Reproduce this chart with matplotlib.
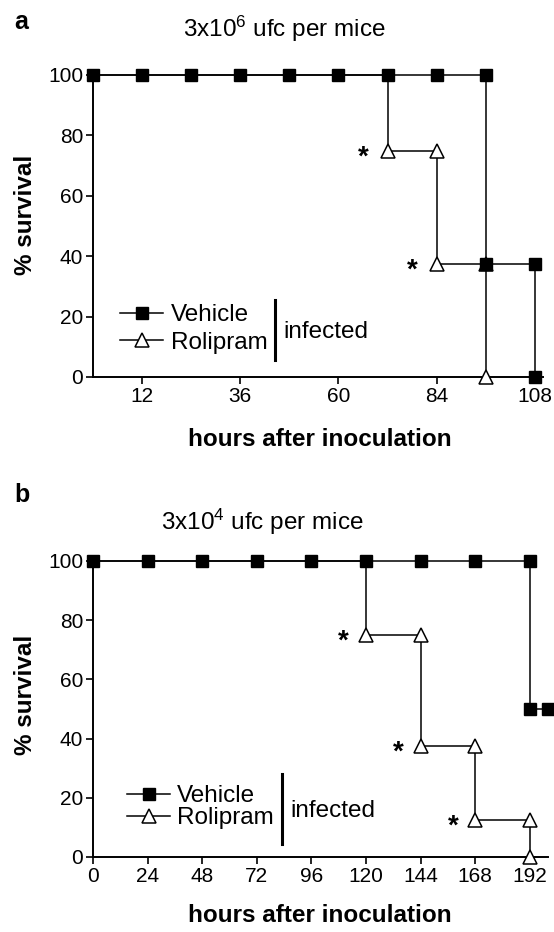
import matplotlib
matplotlib.use("Agg")
import matplotlib.pyplot as plt
from matplotlib.lines import Line2D

plt.rcParams['font.family'] = ['Liberation Sans', 'DejaVu Sans']
plt.rcParams['mathtext.fontset'] = 'custom'
plt.rcParams['mathtext.rm'] = 'Liberation Sans'
plt.rcParams['mathtext.it'] = 'Liberation Sans:italic'
plt.rcParams['mathtext.bf'] = 'Liberation Sans:bold'

# ---------------- data ----------------
# Panel a: 3x10^6 ufc per mice
veh_a_time = [0, 12, 24, 36, 48, 60, 72, 84, 96, 96, 108, 108]
veh_a_surv = [100, 100, 100, 100, 100, 100, 100, 100, 100, 37.5, 37.5, 0]
rol_a_time = [0, 72, 72, 84, 84, 96, 96]
rol_a_surv = [100, 100, 75, 75, 37.5, 37.5, 0]
rol_a_marks = [2, 3, 4, 5, 6]
star_a = [(72, 75), (84, 37.5)]
xticks_a = [12, 36, 60, 84, 108]

# Panel b: 3x10^4 ufc per mice
veh_b_time = [0, 24, 48, 72, 96, 120, 144, 168, 192, 192, 200]
veh_b_surv = [100, 100, 100, 100, 100, 100, 100, 100, 100, 50, 50]
rol_b_time = [0, 120, 120, 144, 144, 168, 168, 192, 192]
rol_b_surv = [100, 100, 75, 75, 37.5, 37.5, 12.5, 12.5, 0]
rol_b_marks = [2, 3, 4, 5, 6, 7, 8]
star_b = [(120, 75), (144, 37.5), (168, 12.5)]
xticks_b = [0, 24, 48, 72, 96, 120, 144, 168, 192]

yticks = [0, 20, 40, 60, 80, 100]

TICK_FS = 15
LAB_FS = 17.5
LEG_FS = 17.5
TITLE_FS = 17.5
MS = 8.5

W, H = 554, 932
fig = plt.figure(figsize=(W / 100, H / 100), dpi=100)

def fx(px):
    return px / W

def fy(py):
    return 1 - py / H

def setup(ax, xlim, xticks):
    ax.set_xlim(*xlim)
    ax.set_ylim(0, 100)
    ax.set_xticks(xticks)
    ax.set_yticks(yticks)
    ax.spines['top'].set_visible(False)
    ax.spines['right'].set_visible(False)
    for s in ('left', 'bottom'):
        ax.spines[s].set_linewidth(1.4)
    ax.tick_params(direction='out', length=5, width=1.2, labelsize=TICK_FS, pad=2)

def draw(ax, vt, vs, rt, rs, rmarks, stars, dx_pt):
    ax.plot(rt, rs, color='black', lw=1.1, marker='^', markevery=rmarks, ms=MS + 1,
            mfc='white', mec='black', mew=1.1, clip_on=False, zorder=3)
    ax.plot(vt, vs, color='black', lw=1.1, marker='s', ms=MS, mfc='black', mec='black',
            clip_on=False, zorder=4)
    for (x, y) in stars:
        ax.annotate('*', xy=(x, y), xytext=(-dx_pt, -5), textcoords='offset points',
                    fontsize=20, fontweight='bold', ha='center', va='center')

def legend(ax, x0, x1, xt, yv, yr, xbar, ybar0, ybar1, xinf, yinf):
    tr = ax.transAxes
    xm = (x0 + x1) / 2
    ax.add_line(Line2D([x0, x1], [yv, yv], transform=tr, color='black', lw=1.1))
    ax.add_line(Line2D([xm], [yv], transform=tr, marker='s', ms=MS, color='black'))
    ax.add_line(Line2D([x0, x1], [yr, yr], transform=tr, color='black', lw=1.1))
    ax.add_line(Line2D([xm], [yr], transform=tr, marker='^', ms=MS + 1, mfc='white',
                       mec='black', mew=1.1, color='black'))
    ax.text(xt, yv, 'Vehicle', transform=tr, fontsize=LEG_FS, va='center_baseline', ha='left')
    ax.text(xt, yr, 'Rolipram', transform=tr, fontsize=LEG_FS, va='center_baseline', ha='left')
    ax.add_line(Line2D([xbar, xbar], [ybar0, ybar1], transform=tr, color='black', lw=2.2))
    ax.text(xinf, yinf, 'infected', transform=tr, fontsize=LEG_FS, va='center_baseline', ha='left')

# Panel a  (x: 93..543 px, y: 75..377 px)
ax1 = fig.add_axes([fx(93), fy(377), fx(450), 302 / H])
setup(ax1, (0, 110), xticks_a)
draw(ax1, veh_a_time, veh_a_surv, rol_a_time, rol_a_surv, rol_a_marks, star_a, 17.5)
legend(ax1, 0.06, 0.156, 0.173, 0.212, 0.1225, 0.404, 0.056, 0.255, 0.422, 0.156)

# Panel b  (x: 93..548 px, y: 561..857 px)
ax2 = fig.add_axes([fx(93), fy(857), fx(455), 296 / H])
setup(ax2, (0, 200), xticks_b)
draw(ax2, veh_b_time, veh_b_surv, rol_b_time, rol_b_surv, rol_b_marks, star_b, 16)
legend(ax2, 0.075, 0.169, 0.185, 0.213, 0.14, 0.415, 0.045, 0.28, 0.433, 0.165)

# panel letters and titles
fig.text(fx(14), fy(29), 'a', fontsize=18, fontweight='bold', ha='left', va='baseline')
fig.text(fx(284), fy(37), r'3x10$^{6}$ ufc per mice', fontsize=TITLE_FS, ha='center', va='baseline')
fig.text(fx(14), fy(502), 'b', fontsize=18, fontweight='bold', ha='left', va='baseline')
fig.text(fx(262), fy(530), r'3x10$^{4}$ ufc per mice', fontsize=TITLE_FS, ha='center', va='baseline')

# axis labels
fig.text(fx(26), fy(215), '% survival', fontsize=LAB_FS, fontweight='bold', rotation=90,
         ha='center', va='center')
fig.text(fx(26), fy(695), '% survival', fontsize=LAB_FS, fontweight='bold', rotation=90,
         ha='center', va='center')
fig.text(fx(320), fy(440), 'hours after inoculation', fontsize=LAB_FS, fontweight='bold',
         ha='center', va='center')
fig.text(fx(320), fy(915), 'hours after inoculation', fontsize=LAB_FS, fontweight='bold',
         ha='center', va='center')

fig.savefig('out.png', dpi=100)
